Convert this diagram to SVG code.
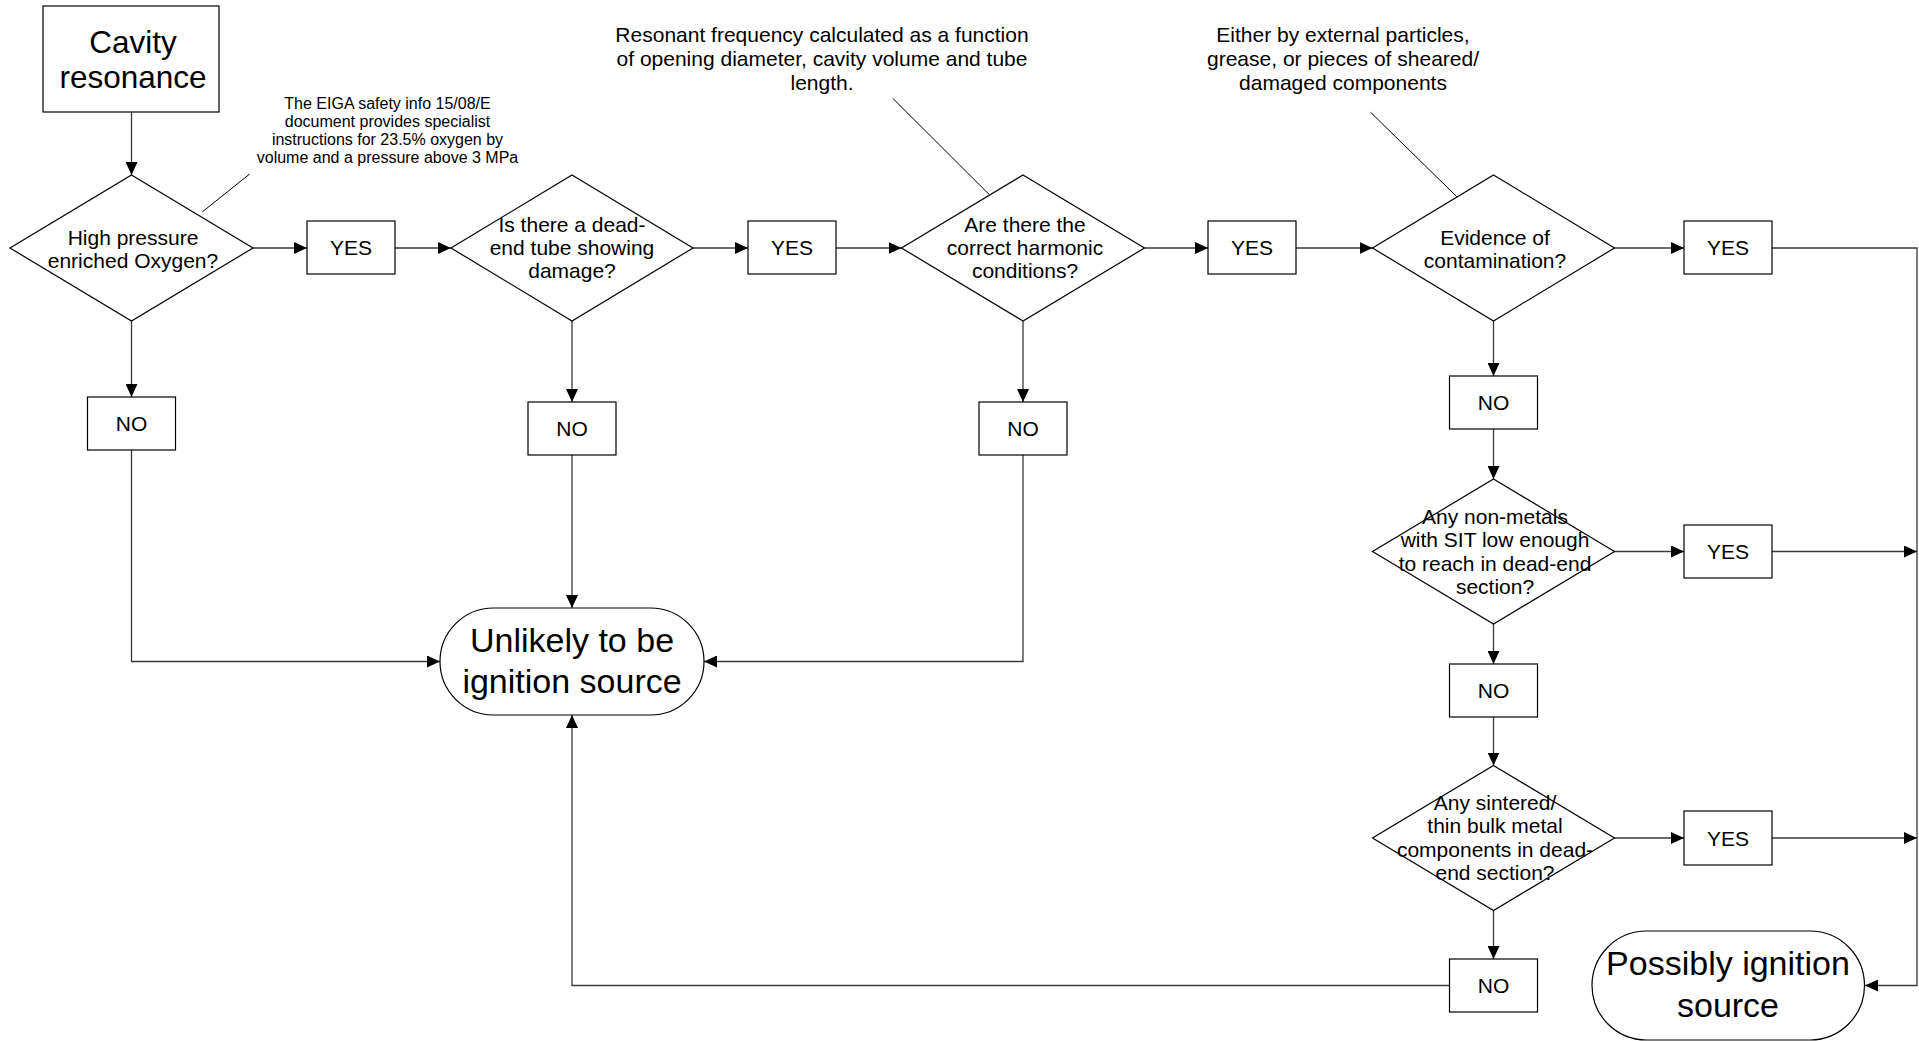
<svg xmlns="http://www.w3.org/2000/svg" width="1919" height="1041" viewBox="0 0 1919 1041">
<style>
text{font-family:"Liberation Sans",Arial,sans-serif;fill:#000;text-anchor:middle}
.shape{fill:#fff;stroke:#000;stroke-width:1.2}
.t21{font-size:21px}
.t16{font-size:16px}
.big{font-size:34px}
.conn{fill:none;stroke:#3a3a3a;stroke-width:1.3}
.note{fill:none;stroke:#000;stroke-width:1}
</style>
<defs>
<marker id="arr" markerUnits="userSpaceOnUse" markerWidth="13" markerHeight="12" refX="13" refY="6" orient="auto">
<path d="M0,0 L13,6 L0,12 z" fill="#000"/>
</marker>
</defs>
<rect width="1919" height="1041" fill="#fff"/>

<g id="connectors">
<path class="conn" marker-end="url(#arr)" d="M131.5,112 V175"/>
<path class="conn" marker-end="url(#arr)" d="M253,248 H307"/>
<path class="conn" marker-end="url(#arr)" d="M395,248 H451"/>
<path class="conn" marker-end="url(#arr)" d="M693,248 H748"/>
<path class="conn" marker-end="url(#arr)" d="M836,248 H901.5"/>
<path class="conn" marker-end="url(#arr)" d="M1144.5,248 H1208"/>
<path class="conn" marker-end="url(#arr)" d="M1296,248 H1372.5"/>
<path class="conn" marker-end="url(#arr)" d="M1614.5,248 H1684"/>
<path class="conn" marker-end="url(#arr)" d="M1772,248 H1917 V985.5 H1865"/>
<path class="conn" marker-end="url(#arr)" d="M131.5,321 V397"/>
<path class="conn" marker-end="url(#arr)" d="M131.5,450 V661.5 H440"/>
<path class="conn" marker-end="url(#arr)" d="M572,321 V402"/>
<path class="conn" marker-end="url(#arr)" d="M572,455 V608"/>
<path class="conn" marker-end="url(#arr)" d="M1023,321 V402"/>
<path class="conn" marker-end="url(#arr)" d="M1023,455 V661.5 H704"/>
<path class="conn" marker-end="url(#arr)" d="M1493.5,321 V376"/>
<path class="conn" marker-end="url(#arr)" d="M1493.5,429 V479"/>
<path class="conn" marker-end="url(#arr)" d="M1614.5,551.5 H1684"/>
<path class="conn" marker-end="url(#arr)" d="M1772,551.5 H1917"/>
<path class="conn" marker-end="url(#arr)" d="M1493.5,624 V664"/>
<path class="conn" marker-end="url(#arr)" d="M1493.5,717 V765.5"/>
<path class="conn" marker-end="url(#arr)" d="M1614.5,838 H1684"/>
<path class="conn" marker-end="url(#arr)" d="M1772,838 H1917"/>
<path class="conn" marker-end="url(#arr)" d="M1493.5,910.5 V959"/>
<path class="conn" marker-end="url(#arr)" d="M1449,985.5 H572 V715"/>
<line class="note" x1="249.7" y1="174" x2="202.5" y2="211.7"/>
<line class="note" x1="892.7" y1="98.3" x2="989" y2="194.3"/>
<line class="note" x1="1370.6" y1="112.3" x2="1456.8" y2="196.7"/>
</g>

<g id="start">
<rect class="shape" x="43" y="6" width="176" height="106"/>
<text x="133" y="53.3" style="font-size:31.5px">Cavity</text>
<text x="133" y="88.3" style="font-size:31.5px">resonance</text>
</g>

<g id="note1">
<text class="t16" x="387.5" y="108.5">The EIGA safety info 15/08/E</text>
<text class="t16" x="387.5" y="126.5">document provides specialist</text>
<text class="t16" x="387.5" y="144.6">instructions for 23.5% oxygen by</text>
<text class="t16" x="387.5" y="162.7">volume and a pressure above 3 MPa</text>
</g>

<g id="note2">
<text class="t21" x="822" y="41.7">Resonant frequency calculated as a function</text>
<text class="t21" x="822" y="66">of opening diameter, cavity volume and tube</text>
<text class="t21" x="822" y="90">length.</text>
</g>

<g id="note3">
<text class="t21" x="1343" y="41.7">Either by external particles,</text>
<text class="t21" x="1343" y="66">grease, or pieces of sheared/</text>
<text class="t21" x="1343" y="90">damaged components</text>
</g>

<g id="d1">
<polygon class="shape" points="131.5,175 253,248 131.5,321 10,248"/>
<text class="t21" x="133" y="245">High pressure</text>
<text class="t21" x="133" y="268">enriched Oxygen?</text>
</g>

<g id="d2">
<polygon class="shape" points="572,175 693,248 572,321 451,248"/>
<text class="t21" x="572" y="232">Is there a dead-</text>
<text class="t21" x="572" y="255">end tube showing</text>
<text class="t21" x="572" y="278">damage?</text>
</g>

<g id="d3">
<polygon class="shape" points="1023,175 1144.5,248 1023,321 901.5,248"/>
<text class="t21" x="1025" y="232">Are there the</text>
<text class="t21" x="1025" y="255">correct harmonic</text>
<text class="t21" x="1025" y="278">conditions?</text>
</g>

<g id="d4">
<polygon class="shape" points="1493.5,175 1614.5,248 1493.5,321 1372.5,248"/>
<text class="t21" x="1495" y="245">Evidence of</text>
<text class="t21" x="1495" y="268">contamination?</text>
</g>

<g id="d5">
<polygon class="shape" points="1493.5,479 1614.5,551.5 1493.5,624 1372.5,551.5"/>
<text class="t21" x="1495" y="523.5">Any non-metals</text>
<text class="t21" x="1495" y="547">with SIT low enough</text>
<text class="t21" x="1495" y="570.5">to reach in dead-end</text>
<text class="t21" x="1495" y="594">section?</text>
</g>

<g id="d6">
<polygon class="shape" points="1493.5,765.5 1614.5,838 1493.5,910.5 1372.5,838"/>
<text class="t21" x="1495" y="809.5">Any sintered/</text>
<text class="t21" x="1495" y="833">thin bulk metal</text>
<text class="t21" x="1495" y="856.5">components in dead-</text>
<text class="t21" x="1495" y="880">end section?</text>
</g>

<g id="yes1"><rect class="shape" x="307" y="221" width="88" height="53"/><text class="t21" x="351" y="255">YES</text></g>
<g id="yes2"><rect class="shape" x="748" y="221" width="88" height="53"/><text class="t21" x="792" y="255">YES</text></g>
<g id="yes3"><rect class="shape" x="1208" y="221" width="88" height="53"/><text class="t21" x="1252" y="255">YES</text></g>
<g id="yes4"><rect class="shape" x="1684" y="221" width="88" height="53"/><text class="t21" x="1728" y="255">YES</text></g>
<g id="yes5"><rect class="shape" x="1684" y="525" width="88" height="53"/><text class="t21" x="1728" y="559">YES</text></g>
<g id="yes6"><rect class="shape" x="1684" y="811" width="88" height="54"/><text class="t21" x="1728" y="845.5">YES</text></g>

<g id="no1"><rect class="shape" x="87.5" y="397" width="88" height="53"/><text class="t21" x="131.5" y="431">NO</text></g>
<g id="no2"><rect class="shape" x="528" y="402" width="88" height="53"/><text class="t21" x="572" y="436">NO</text></g>
<g id="no3"><rect class="shape" x="979" y="402" width="88" height="53"/><text class="t21" x="1023" y="436">NO</text></g>
<g id="no4"><rect class="shape" x="1449.5" y="376" width="88" height="53"/><text class="t21" x="1493.5" y="410">NO</text></g>
<g id="no5"><rect class="shape" x="1449.5" y="664" width="88" height="53"/><text class="t21" x="1493.5" y="698">NO</text></g>
<g id="no6"><rect class="shape" x="1449.5" y="959" width="88" height="53"/><text class="t21" x="1493.5" y="993">NO</text></g>

<g id="unlikely">
<rect class="shape" x="440" y="608" width="264" height="107" rx="53.5" ry="53.5"/>
<text class="big" x="572" y="651.7">Unlikely to be</text>
<text class="big" x="572" y="692.7">ignition source</text>
</g>

<g id="possibly">
<rect class="shape" x="1592" y="931" width="272.5" height="109" rx="54.5" ry="54.5"/>
<text class="big" x="1728" y="975">Possibly ignition</text>
<text class="big" x="1728" y="1016.7">source</text>
</g>
</svg>
